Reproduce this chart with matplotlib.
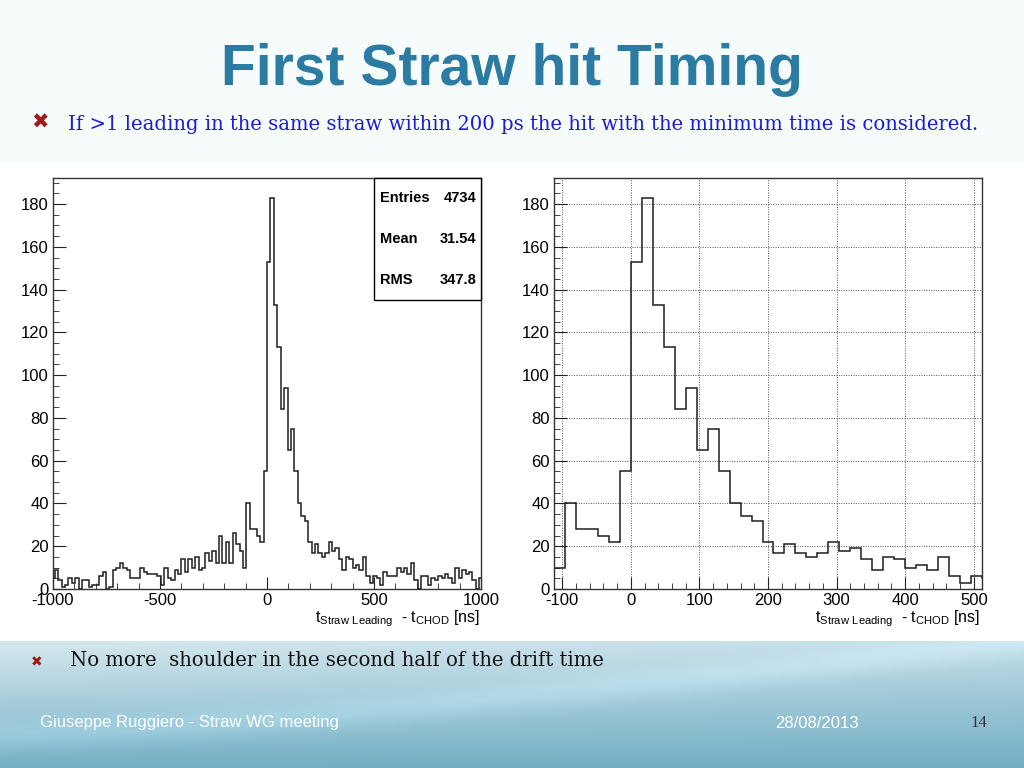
import numpy as np
import matplotlib
matplotlib.use('Agg')
import matplotlib.pyplot as plt
from matplotlib.patches import Rectangle
from matplotlib.ticker import MultipleLocator

plt.rcParams['font.family'] = ['Liberation Sans', 'DejaVu Sans']
plt.rcParams['mathtext.default'] = 'regular'
plt.rcParams['axes.unicode_minus'] = False

# t_straw_leading - t_chod histogram, 16 ns bins starting at -1008 ns
first_edge = -1008
bin_width = 16
counts = [5, 9, 4, 1, 2, 5, 3, 5, 0, 4, 4, 1, 2, 2, 6, 8, 0, 1,
          9, 10, 12, 10, 9, 5, 5, 5, 10, 8, 7,
          7, 7, 6, 2, 10, 5, 4, 9, 7, 14, 8, 14, 10, 15, 9,
          10, 17, 13, 18, 12, 25, 12, 22, 12, 26, 21, 18,
          10, 40, 28, 28, 25, 22, 55, 153, 183, 133, 113, 84, 94, 65,
          75, 55, 40, 34, 32, 22, 17, 21, 17, 15, 17, 22, 18, 19, 14,
          9, 15, 14, 10, 11, 9, 15, 6, 3, 6,
          5, 2, 8, 6, 6, 6, 10, 8, 10, 7, 12, 4, 0, 6, 6, 2, 5, 4, 6,
          5, 7, 5, 3, 10, 5, 9, 7, 8, 4, 0, 5]
stat_names = ['Entries', 'Mean', 'RMS']
stat_values = ['4734', '31.54', '347.8']

title = 'First Straw hit Timing'
bullet_top = 'If >1 leading in the same straw within 200 ps the hit with the minimum time is considered.'
bullet_bottom = 'No more  shoulder in the second half of the drift time'
footer_left = 'Giuseppe Ruggiero - Straw WG meeting'
footer_date = '28/08/2013'
page = '14'
xlabel = r'$t_{Straw\ Leading}$  - $t_{CHOD}$ [ns]'

edges = first_edge + bin_width * np.arange(len(counts) + 1)

W, H = 1024, 768
fig = plt.figure(figsize=(W / 100, H / 100), dpi=100)
fig.patch.set_facecolor('#f6fbfc')


def box(x0, y0, x1, y1):
    # pixel box (top-left origin) -> figure fraction
    return [x0 / W, 1 - y1 / H, (x1 - x0) / W, (y1 - y0) / H]


def fx(x):
    return x / W


def fy(y):
    return 1 - y / H


# white area behind the two ROOT canvases
fig.add_artist(Rectangle((0, fy(641)), 1, (641 - 163) / H, transform=fig.transFigure,
                         fc='white', ec='none', zorder=-2))

# teal band at the bottom of the slide
bg = fig.add_axes(box(0, 641, 1024, 768), zorder=-1)
hh, ww = 127, 1024
yy, xx = np.mgrid[0:1:hh * 1j, 0:1:ww * 1j]
light = np.array([0.82, 0.90, 0.93])
dark = np.array([0.41, 0.66, 0.75])
t = np.clip(0.95 * yy + 0.2 * xx * (1 - yy) - 0.05, 0, 1)
img = light + (dark - light) * t[..., None]
streak = np.exp(-((yy - (0.75 - 0.75 * xx ** 1.3)) / 0.12) ** 2) * 0.05
img = np.clip(img + streak[..., None], 0, 1)
bg.imshow(img, aspect='auto', extent=[0, 1, 0, 1])
bg.axis('off')


def style_axes(ax, major, minor, grid):
    ax.stairs(counts, edges, baseline=None, color='#1e1e1e', lw=1.1)
    ax.set_ylim(0, 192.2)
    ax.xaxis.set_major_locator(MultipleLocator(major))
    ax.xaxis.set_minor_locator(MultipleLocator(minor))
    ax.yaxis.set_major_locator(MultipleLocator(20))
    ax.yaxis.set_minor_locator(MultipleLocator(5))
    ax.tick_params(which='both', direction='in', top=False, right=False,
                   labelsize=12, color='#222222', pad=3)
    ax.tick_params(which='major', length=9)
    ax.tick_params(which='minor', length=4.5)
    for s in ax.spines.values():
        s.set_linewidth(1.0)
        s.set_color('#333333')
    if grid:
        ax.grid(True, which='major', color='#555555', lw=0.7, ls=(0, (1, 1.5)))
        ax.set_axisbelow(True)


# left: full range with stat box
ax1 = fig.add_axes(box(53, 178, 481, 589))
style_axes(ax1, 500, 100, False)
ax1.set_xlim(-1000, 1000)
x0 = (374 - 53) / 428
y0 = (589 - 300) / 411
ax1.add_patch(Rectangle((x0, y0), 1 - x0, 1 - y0, transform=ax1.transAxes,
                        fc='white', ec='black', lw=1.0, zorder=4, clip_on=False))
for k, (n, v) in enumerate(zip(stat_names, stat_values)):
    yk = (589 - (198 + 41 * k)) / 411
    ax1.text((380 - 53) / 428, yk, n, transform=ax1.transAxes, fontsize=10.5,
             weight='bold', ha='left', va='center', zorder=5)
    ax1.text((476 - 53) / 428, yk, v, transform=ax1.transAxes, fontsize=10.5,
             weight='bold', ha='right', va='center', zorder=5)
fig.text(fx(480), fy(619), xlabel, ha='right', va='center', fontsize=11.5)

# right: zoom on the drift window with grid
ax2 = fig.add_axes(box(554, 178, 982, 589))
style_axes(ax2, 100, 20, True)
ax2.set_xlim(-112, 512)
fig.text(fx(980), fy(619), xlabel, ha='right', va='center', fontsize=11.5)

# slide texts
fig.text(fx(512), fy(70), title, ha='center', va='center', fontsize=41,
         weight='bold', color='#2b7ba2')
fig.text(fx(40), fy(123), '\u2716', ha='center', va='center', fontsize=15,
         family='DejaVu Sans', color='#a01a1a')
fig.text(fx(68), fy(124), bullet_top, ha='left', va='center', fontsize=14.1,
         family='DejaVu Serif', color='#1c1cd8')
fig.text(fx(37), fy(662), '\u2716', ha='center', va='center', fontsize=10,
         family='DejaVu Sans', color='#a01a1a')
fig.text(fx(70), fy(660), bullet_bottom, ha='left', va='center', fontsize=14.1,
         family='DejaVu Serif', color='#111111')
fig.text(fx(40), fy(723), footer_left, ha='left', va='center', fontsize=12,
         color='white')
fig.text(fx(775), fy(723), footer_date, ha='left', va='center', fontsize=12,
         color='white')
fig.text(fx(970), fy(723), page, ha='left', va='center', fontsize=12,
         family='Liberation Serif', color='#333333')

fig.savefig('out.png', dpi=100, facecolor=fig.get_facecolor())
